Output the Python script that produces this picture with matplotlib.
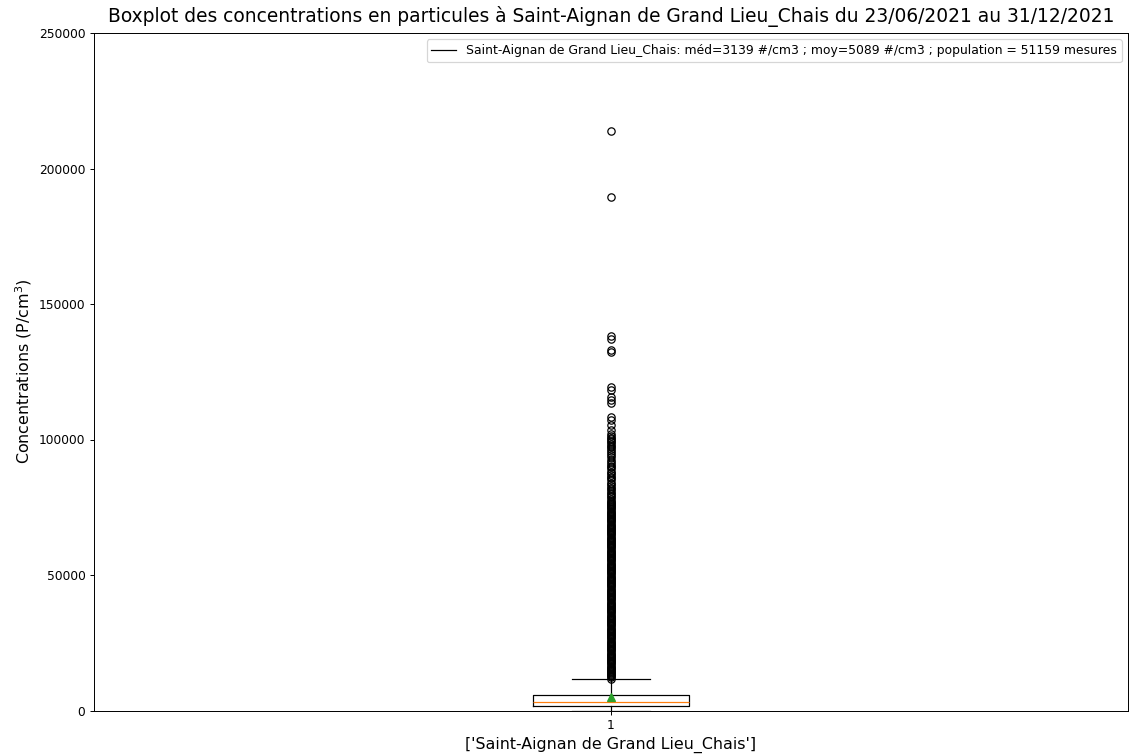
import matplotlib
matplotlib.use("Agg")
import matplotlib.pyplot as plt

station = "Saint-Aignan de Grand Lieu_Chais"
q1 = 1800
median = 3139
q3 = 5750
mean = 5089
whisker_low = 0
whisker_high = 11600
population = 51159

fliers_dense = [
    11800, 12200, 12600, 13000, 13400, 13800, 14200, 14600, 15000, 15400,
    15800, 16200, 16600, 17000, 17400, 17800, 18200, 18600, 19000, 19400,
    19800, 20200, 20600, 21000, 21400, 21800, 22200, 22600, 23000, 23400,
    23800, 24200, 24600, 25000, 25400, 25800, 26200, 26600, 27000, 27400,
    27800, 28200, 28600, 29000, 29400, 29800, 30200, 30600, 31000, 31400,
    31800, 32200, 32600, 33000, 33400, 33800, 34200, 34600, 35000, 35400,
    35800, 36200, 36600, 37000, 37400, 37800, 38200, 38600, 39000, 39400,
    39800, 40200, 40600, 41000, 41400, 41800, 42200, 42600, 43000, 43400,
    43800, 44200, 44600, 45000, 45400, 45800, 46200, 46600, 47000, 47400,
    47800, 48200, 48600, 49000, 49400, 49800, 50200, 50600, 51000, 51400,
    51800, 52200, 52600, 53000, 53400, 53800, 54200, 54600, 55000, 55400,
    55800, 56200, 56600, 57000, 57400, 57800, 58200, 58600, 59000, 59400,
    59800, 60200, 60600, 61000, 61400, 61800, 62200, 62600, 63000, 63400,
    63800, 64200, 64600, 65000, 65400, 65800, 66200, 66600, 67000, 67400,
    67800, 68200, 68600, 69000, 69400, 69800, 70200, 70600, 71000, 71400,
    71800, 72200, 72600, 73000, 73400, 73800, 74200, 74600, 75000, 75400,
    75800, 76200, 76600, 77000, 77400,
]
fliers_upper = [
    78000, 78600, 79200, 79800, 80400, 81000, 81600, 82200, 82800, 83400,
    84000, 85000, 85700, 86300, 86900, 87500, 88100, 89000, 89800, 90400,
    91000, 91600, 92600, 93500, 94100, 95000, 95900, 96500, 97100, 97700,
    98300, 98900, 99500, 100100, 100700, 101300, 101900,
    103500, 105300, 107200, 108400, 113400, 114500, 115600,
    118300, 119300, 132300, 133200, 137000, 138100, 189500, 213800,
]

y_ticks = [0, 50000, 100000, 150000, 200000, 250000]

DPI = 88
fig = plt.figure(figsize=(1131 / DPI, 754 / DPI), dpi=DPI)
ax = fig.add_axes([94 / 1131, 1 - 710.5 / 754, (1128 - 94) / 1131, (710.5 - 33) / 754])

stats = [{
    "q1": q1, "med": median, "q3": q3, "mean": mean,
    "whislo": whisker_low, "whishi": whisker_high,
    "fliers": fliers_dense + fliers_upper, "label": "1",
}]
ax.bxp(stats, showmeans=True)

ax.plot([], [], color="black", lw=1,
        label=f"{station}: méd={median} #/cm3 ; moy={mean} #/cm3 ; population = {population} mesures")
ax.legend(loc="upper right", fontsize=10.1)

ax.set_ylim(0, 250000)
ax.set_yticks(y_ticks)
ax.set_xlim(0.5, 1.5)
ax.tick_params(labelsize=10)
ax.set_title(f"Boxplot des concentrations en particules à {station} du 23/06/2021 au 31/12/2021",
             fontsize=15.2, pad=9)
ax.set_ylabel("Concentrations (P/cm$^3$)", fontsize=13)
ax.set_xlabel(f"['{station}']", fontsize=13)

fig.savefig("out.png", dpi=DPI)
